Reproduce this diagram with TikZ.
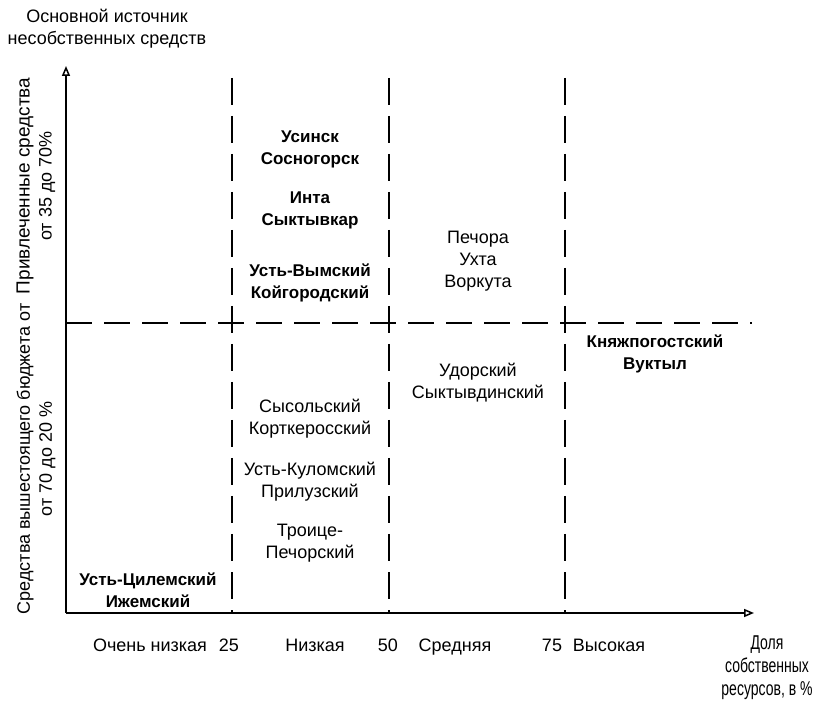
\documentclass[tikz,border=0pt]{standalone}
\usepackage{fontspec}
\setmainfont{Liberation Sans}
\newfontfamily\narrowfont[FakeStretch=0.7]{Liberation Sans}
\usetikzlibrary{arrows.meta, positioning}

\begin{document}
\begin{tikzpicture}[
  x=1pt, y=-1pt,
  txt/.style={align=center, inner sep=0pt, font=\fontsize{18}{22}\selectfont},
  btxt/.style={txt, font=\fontsize{17}{22}\selectfont\bfseries},
  axis/.style={-{Triangle[open, length=10pt, width=8pt]}, line width=1.5pt},
  vdash/.style={line width=1.5pt, dash pattern=on 27pt off 11pt},
  hdash/.style={line width=1.5pt, dash pattern=on 26pt off 12pt},
]
\useasboundingbox (0,0) rectangle (815,703);

% axes
\coordinate (O) at (66,613);
\coordinate (ytop) at (66,66);
\coordinate (xend) at (754,613);
\draw[axis] (O) -- (ytop);
\draw[axis] (O) -- (xend);

% quartile borders
\coordinate (q25) at (232,78);
\coordinate (q50) at (389,78);
\coordinate (q75) at (565,78);
\draw[vdash] (q25) -- (q25 |- O);
\draw[vdash] (q50) -- (q50 |- O);
\draw[vdash] (q75) -- (q75 |- O);
\coordinate (hl) at (66,323);
\coordinate (hr) at (752,323);
\draw[hdash] (hl) -- (hr);

% axis titles
\node[txt] (src) at (107,29) {Основной источник\\несобственных средств};
\node[txt, rotate=90] (yhi) at (36,186)
  {{\fontsize{19}{22}\selectfont Привлеченные средства}\\от 35 до 70\%};
\node[txt, rotate=90] (ylo) at (36,459)
  {Средства вышестоящего бюджета от\\от 70 до 20 \%};
\node[txt, font=\fontsize{20}{23}\narrowfont] (share) at (767,668)
  {Доля\\собственных\\ресурсов, в \%};

% scale
\node[txt, anchor=base] (vlow) at (150,651) {Очень низкая};
\node[txt, anchor=base] (t25) at (229,651) {25};
\node[txt, anchor=base] (low) at (315,651) {Низкая};
\node[txt, anchor=base] (t50) at (388,651) {50};
\node[txt, anchor=base] (mid) at (455,651) {Средняя};
\node[txt, anchor=base] (t75) at (552,651) {75};
\node[txt, anchor=base] (high) at (609,651) {Высокая};

% districts
\node[btxt] (usinsk) at (310,149) {Усинск\\Сосногорск};
\node[btxt] (inta) at (310,210) {Инта\\Сыктывкар};
\node[btxt] (vym) at (310,283) {Усть-Вымский\\Койгородский};
\node[txt] (pechora) at (478,261) {Печора\\Ухта\\Воркута};
\node[txt] (udora) at (478,383) {Удорский\\Сыктывдинский};
\node[btxt] (knyazh) at (655,354) {Княжпогостский\\Вуктыл};
\node[txt] (sysola) at (310,419) {Сысольский\\Корткеросский};
\node[txt] (kulom) at (310,482) {Усть-Куломский\\Прилузский};
\node[txt] (troitsk) at (310,543) {Троице-\\Печорский};
\node[btxt] (tsilma) at (148,590) {Усть-Цилемский\\Ижемский};

\end{tikzpicture}
\end{document}
